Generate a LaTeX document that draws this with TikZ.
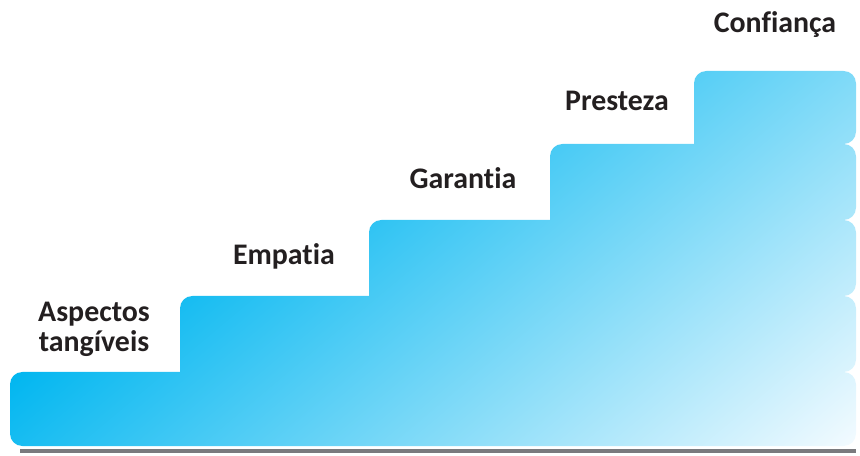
\documentclass[tikz,border=0pt]{standalone}
\usepackage{fontspec}
\setmainfont{Carlito}[Ligatures=NoCommon]
\usetikzlibrary{positioning}
\definecolor{stepcyan}{RGB}{0,182,240}
\definecolor{stepwhite}{RGB}{244,251,255}
\definecolor{labelgrey}{RGB}{35,31,32}
\definecolor{shadowgrey}{RGB}{122,122,126}
\tikzset{%
  steplabel/.style={font=\bfseries\fontsize{17}{17.6}\selectfont, text=labelgrey, align=center, inner sep=0pt},
  stepshade/.style={left color=stepcyan, right color=stepwhite},
  shadowbar/.style={fill=shadowgrey, draw=none}
}

\begin{document}
\begin{tikzpicture}[x=0.02cm, y=-0.02cm]
    \useasboundingbox (0,0) rectangle (860,456);

    % staircase, one gradient for all steps
    \begin{scope}
        \clip [rounded corners=7] (10,446) -- (10,372) -- (856,372) -- (856,446) -- cycle
            \foreach \lx/\ty/\by in {180/296/372, 369/220/296, 550/144/220, 694/71/144}{
                (\lx,\by+12) -- (\lx,\ty) -- (856,\ty) -- (856,\by) -- (820,\by) -- (820,\by+12) -- cycle
            };
        \begin{scope}[transform canvas={rotate around={-50:(10,372)}}]
            \shade [stepshade] (10,-628) rectangle (611,1372);
        \end{scope}
    \end{scope}

    % shadow under the bottom step
    \fill [shadowbar] (20,449) rectangle (856,453);

    \node [steplabel, anchor=base] (tan) at (94,352) {Aspectos\\tangíveis};
    \node [steplabel, anchor=base] (emp) at (284,265) {Empatia};
    \node [steplabel, anchor=base] (gar) at (463,189) {Garantia};
    \node [steplabel, anchor=base] (pre) at (617,111) {Presteza};
    \node [steplabel, anchor=base] (con) at (775,33) {Confiança};
\end{tikzpicture}
\end{document}
